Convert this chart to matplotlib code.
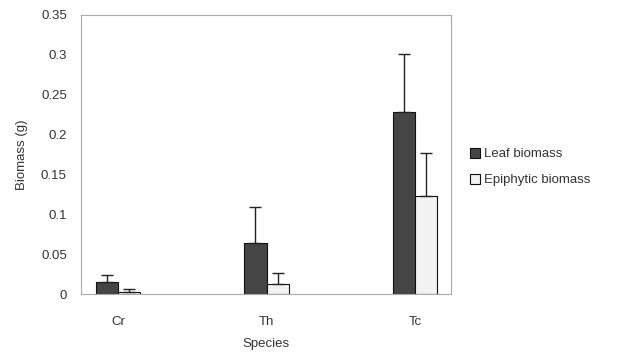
import numpy as np
import matplotlib
matplotlib.use("Agg")
import matplotlib.pyplot as plt

# data
species = ["Cr", "Th", "Tc"]
leaf = [0.015, 0.064, 0.228]
leaf_err = [0.009, 0.045, 0.073]
epi = [0.003, 0.012, 0.123]
epi_err = [0.003, 0.015, 0.054]
yticks = [0, 0.05, 0.1, 0.15, 0.2, 0.25, 0.3, 0.35]
ytick_labels = ["0", "0.05", "0.1", "0.15", "0.2", "0.25", "0.3", "0.35"]

plt.rcParams["font.family"] = ["Liberation Sans", "DejaVu Sans"]
txt = "#333333"
fs = 9.5

fig = plt.figure(figsize=(6.21, 3.56), dpi=100)
ax = fig.add_axes([0.130, 0.174, 0.596, 0.784])

x = np.arange(len(species))
w = 0.15
ax.bar(x - w / 2, leaf, w, color="#454545", edgecolor="#111111", linewidth=0.8,
       yerr=[np.zeros(3), leaf_err], capsize=4,
       error_kw=dict(ecolor="#222222", elinewidth=1, capthick=1),
       label="Leaf biomass")
ax.bar(x + w / 2, epi, w, color="#f2f2f2", edgecolor="#111111", linewidth=0.8,
       yerr=[np.zeros(3), epi_err], capsize=4,
       error_kw=dict(ecolor="#222222", elinewidth=1, capthick=1),
       label="Epiphytic biomass")

ax.set_xlim(-0.25, 2.24)
ax.set_ylim(0, 0.35)
ax.set_yticks(yticks)
ax.set_yticklabels(ytick_labels)
ax.set_xticks(x)
ax.set_xticklabels(species)
ax.tick_params(length=0, labelsize=fs, colors=txt)
ax.tick_params(axis="y", pad=10)
ax.tick_params(axis="x", pad=16)
for s in ax.spines.values():
    s.set_color("#aaaaaa")
    s.set_linewidth(0.8)

ax.set_xlabel("Species", fontsize=fs, color=txt, labelpad=7)
ax.set_ylabel("Biomass (g)", fontsize=fs, color=txt, labelpad=9)

fig.legend(loc="upper left", bbox_to_anchor=(0.748, 0.6), frameon=False,
           fontsize=fs, labelcolor=txt, handlelength=0.8, handleheight=0.8,
           handletextpad=0.3, labelspacing=1.0, borderaxespad=0)

fig.savefig("out.png", dpi=100)
